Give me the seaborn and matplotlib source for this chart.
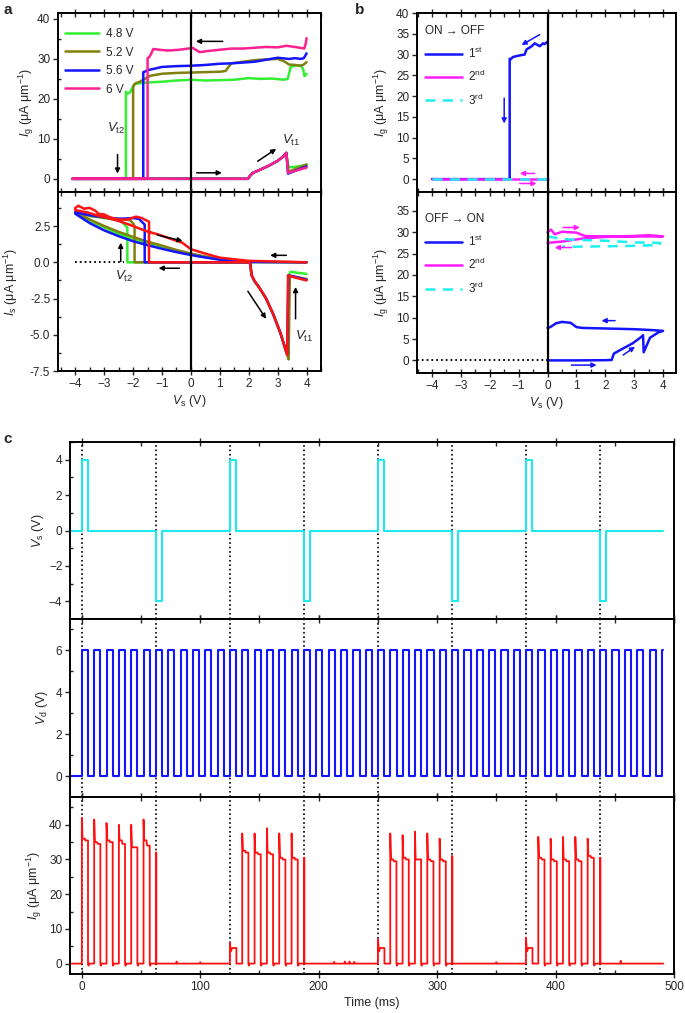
import numpy as np
import matplotlib
matplotlib.use("Agg")
import matplotlib.pyplot as plt
import seaborn as sns
from matplotlib.ticker import MultipleLocator

sns.set_style("ticks")
plt.rcParams['font.family'] = ['Liberation Sans', 'DejaVu Sans']
plt.rcParams['mathtext.fontset'] = 'custom'
plt.rcParams['mathtext.rm'] = 'Liberation Sans'
plt.rcParams['mathtext.it'] = 'Liberation Sans:italic'
plt.rcParams['mathtext.bf'] = 'Liberation Sans:bold'
plt.rcParams['axes.unicode_minus'] = True

# ---------------- panel a data ----------------
a_labels = ["4.8 V", "5.2 V", "5.6 V", "6 V"]
a_top_colors = ["#33ee33", "#808010", "#1414ff", "#ff2090"]
a_bot_colors = ["#33ee33", "#808010", "#1414ff", "#ff1414"]

# Ig vs Vs, high branch (4 -> -4, drop at Vt2)
ig_hi_x = [
    [4.0, 3.93, 3.88, 3.8, 3.6, 3.45, 3.35, 3.2, 2.8, 2.4, 2.0, 1.5, 1.0, 0.5, 0.0,
     -0.5, -1.0, -1.5, -1.8, -1.95, -2.05, -2.12, -2.2, -2.25, -2.25],
    [4.0, 3.9, 3.8, 3.6, 3.4, 3.2, 3.0, 2.6, 2.2, 1.8, 1.4, 1.3, 1.2, 1.0, 0.5, 0.0,
     -0.5, -1.0, -1.4, -1.6, -1.8, -1.9, -1.97, -2.0, -2.0],
    [4.0, 3.95, 3.9, 3.8, 3.6, 3.4, 3.0, 2.6, 2.2, 1.8, 1.4, 1.0, 0.5, 0.0, -0.5,
     -1.0, -1.3, -1.5, -1.6, -1.65, -1.65],
    [4.0, 3.97, 3.92, 3.85, 3.6, 3.3, 3.0, 2.6, 2.2, 1.8, 1.4, 1.0, 0.6, 0.3, 0.05,
     0.0, -0.4, -0.8, -1.1, -1.3, -1.4, -1.45, -1.5, -1.5],
]
ig_hi_y = [
    [26.3, 25.7, 27.5, 28.4, 28.3, 28.0, 25.0, 24.8, 25.1, 25.0, 25.2, 24.8, 24.7, 24.6, 24.8,
     24.6, 24.3, 24.1, 23.9, 23.7, 22.5, 21.5, 21.4, 21.8, 0.0],
    [29.2, 28.6, 28.3, 28.5, 28.6, 29.5, 30.0, 29.9, 29.7, 29.3, 28.9, 28.0, 27.0, 26.8, 26.7, 26.6,
     26.5, 26.3, 25.8, 25.0, 24.2, 24.0, 23.5, 23.0, 0.0],
    [31.4, 30.7, 30.2, 30.0, 30.2, 30.0, 30.3, 29.8, 29.3, 29.1, 28.9, 28.8, 28.5, 28.3, 28.2,
     28.0, 27.5, 27.2, 26.8, 26.7, 0.0],
    [35.2, 33.8, 32.6, 32.7, 33.0, 33.3, 32.9, 33.0, 32.8, 32.6, 32.6, 32.3, 32.0, 31.7, 32.8,
     32.7, 32.3, 32.1, 32.3, 32.5, 31.0, 30.4, 30.2, 0.0],
]
# Ig low branch (-4 -> 4, rise to Vt1)
ig_lo_x = [-4.1, 1.97, 2.05, 2.15, 2.4, 2.7, 3.0, 3.2, 3.3]
ig_lo_y = [0.0, 0.0, 0.8, 1.5, 2.3, 3.3, 4.5, 5.6, 6.5]
ig_end_x = [[3.36, 3.5, 3.8, 4.0], [3.38, 3.6, 4.0], [3.36, 3.6, 4.0], [3.36, 3.6, 4.0]]
ig_end_y = [[3.0, 2.9, 3.2, 3.5], [1.8, 2.4, 3.6], [1.3, 2.0, 3.1], [1.5, 2.0, 2.8]]

# Is vs Vs: lower smooth branch (2 -> -4)
is_lo_x = [
    [2.0, 1.5, 1.0, 0.5, 0.0, -0.5, -1.0, -1.5, -2.0, -2.5, -3.0, -3.5, -4.0],
    [2.0, 1.5, 1.0, 0.5, 0.0, -0.5, -1.0, -1.5, -2.0, -2.5, -3.0, -3.5, -4.0],
    [2.0, 1.5, 1.0, 0.5, 0.0, -0.5, -1.0, -1.5, -2.0, -2.5, -3.0, -3.5, -4.0],
    [2.0, 1.0, 0.5, 0.0, -0.3, -0.6, -1.1, -1.56, -2.0, -2.5, -3.18, -3.6, -4.0],
]
is_lo_y = [
    [0.02, 0.09, 0.2, 0.36, 0.55, 0.78, 1.05, 1.3, 1.6, 1.95, 2.4, 2.85, 3.4],
    [0.03, 0.1, 0.22, 0.4, 0.6, 0.85, 1.15, 1.42, 1.75, 2.1, 2.5, 2.95, 3.45],
    [0.02, 0.08, 0.18, 0.33, 0.5, 0.7, 0.93, 1.18, 1.45, 1.8, 2.2, 2.7, 3.35],
    [0.1, 0.32, 0.6, 0.9, 1.35, 1.55, 1.9, 2.16, 2.5, 2.85, 3.2, 3.45, 3.6],
]
# Is upper noisy branch (-4 -> Vt2, then vertical drop)
is_hi_x = [
    [-4.0, -3.5, -3.0, -2.6, -2.4, -2.25, -2.2, -2.2],
    [-4.0, -3.5, -3.0, -2.5, -2.1, -1.97, -1.95, -1.95],
    [-4.0, -3.5, -3.0, -2.5, -2.0, -1.8, -1.7, -1.6, -1.6],
    [-4.0, -3.9, -3.7, -3.5, -3.3, -3.2, -3.0, -2.8, -2.5, -2.2, -1.9, -1.7, -1.55, -1.45, -1.45],
]
is_hi_y = [
    [3.5, 3.2, 3.05, 2.95, 2.8, 2.5, 2.4, 0.0],
    [3.5, 3.2, 3.1, 3.0, 2.9, 2.6, 2.4, 0.0],
    [3.45, 3.25, 3.1, 3.0, 3.05, 3.0, 2.8, 2.6, 0.0],
    [3.75, 3.9, 3.7, 3.75, 3.55, 3.35, 3.3, 3.1, 2.95, 2.95, 3.15, 3.05, 2.9, 2.8, 0.0],
]
# Is negative dip (2 -> 4, jump at Vt1)
is_dip_x = [2.0, 2.05, 2.1, 2.2, 2.35, 2.6, 2.85, 3.1, 3.3]
is_dip_y = [0.0, -0.1, -0.9, -1.3, -1.7, -2.5, -3.6, -4.9, -6.2]
is_end_x = [[3.35, 3.38, 3.45, 3.6, 4.0], [3.38, 3.42, 3.6, 4.0], [3.33, 3.37, 3.5, 4.0], [3.33, 3.36, 3.5, 4.0]]
is_end_y = [[-6.3, -0.9, -0.65, -0.7, -0.8], [-6.7, -1.0, -1.0, -1.15], [-6.3, -0.9, -0.95, -1.2], [-6.4, -0.9, -1.0, -1.25]]

# ---------------- panel b data ----------------
b_colors = ["#1414ff", "#ff1aff", "#1ef0f0"]
b_labels = ["1$^{\\rm st}$", "2$^{\\rm nd}$", "3$^{\\rm rd}$"]
off_x = [
    [0.0, -0.1, -0.15, -0.27, -0.44, -0.55, -0.73, -0.79, -0.96, -1.2, -1.28, -1.31, -1.31, -4.0],
    [-4.0, 0.0],
    [-4.0, 0.0],
]
off_y = [
    [33.1, 32.5, 32.7, 32.0, 32.7, 32.0, 31.2, 30.0, 29.8, 29.4, 28.8, 29.0, 0.0, 0.0],
    [0.0, 0.0],
    [0.0, 0.0],
]
on_x = [
    [0.0, 1.0, 2.0, 2.22, 2.3, 2.62, 2.95, 3.27, 3.31, 3.33, 3.55, 3.85, 4.0,
     3.6, 3.0, 2.4, 1.8, 1.2, 1.0, 0.8, 0.5, 0.3, 0.1, 0.0],
    [0.0, 0.5, 1.2, 2.0, 3.0, 4.0, 3.5, 3.0, 2.0, 1.3, 1.0, 0.5, 0.25, 0.12, 0.0],
    [0.0, 0.5, 1.0, 2.0, 3.0, 3.9, 3.9, 3.0, 2.0, 1.0, 0.5],
]
on_y = [
    [0.0, 0.0, 0.05, 0.1, 1.6, 2.8, 4.0, 5.6, 5.9, 1.9, 5.3, 6.6, 6.9,
     7.1, 7.3, 7.4, 7.5, 7.6, 7.8, 8.8, 9.0, 8.7, 7.8, 7.6],
    [27.5, 27.8, 28.5, 28.9, 29.0, 29.0, 29.3, 29.1, 29.0, 29.1, 29.9, 30.1, 29.5, 30.6, 30.0],
    [29.0, 28.4, 28.2, 28.0, 27.6, 27.5, 27.0, 26.8, 26.7, 26.6, 26.6],
]

# ---------------- panel c data ----------------
vs_pulse_start = [0, 62.5, 125, 187.5, 250, 312.5, 375, 437.5]
vs_pulse_level = [4, -4, 4, -4, 4, -4, 4, -4]
vs_pulse_width = 5.5
t_first, t_last = -10, 491

vd_high = 6.0
vd_period = 10.42
vd_count = 48

cycle_start = [0, 125, 250, 375]
ig_peaks = [
    [42, 41.5, 40.5, 40, 40, 41.5],
    [37.5, 37.5, 39, 37.5, 37.5],
    [37.5, 37, 38, 37.5, 36],
    [36.5, 36, 36.5, 36.5, 36],
]
ig_plat1 = [
    [36, 35, 35.5, 35.5, 33.5, 35.5],
    [32.5, 32, 32, 30.5, 30.5],
    [30, 30.5, 30, 30, 30],
    [30.5, 30, 30, 30, 31],
]
ig_plat2 = [
    [35.5, 34.5, 35, 34.5, 33.5, 34],
    [32, 31.5, 31.5, 30, 30],
    [29.5, 30, 30, 29.5, 29.5],
    [30, 29.5, 29.5, 29.5, 30.5],
]
ig_last_spike = [32, 30.5, 31, 30.5]
ig_bump = [None, (6.0, 3.5, 4.5), (7.0, 3.5, 4.5), (7.5, 3.5, 4.5)]
ig_undershoot = -0.6
blip_t = [80, 100, 213, 222, 226, 230, 350, 455]
blip_v = [0.6, 0.4, 0.5, 0.6, 0.6, 0.5, 0.4, 0.8]

# build step series for panel c
vs_t, vs_v = [t_first], [0.0]
for s, lv in zip(vs_pulse_start, vs_pulse_level):
    vs_t += [s, s, s + vs_pulse_width, s + vs_pulse_width]
    vs_v += [0.0, lv, lv, 0.0]
vs_t.append(t_last)
vs_v.append(0.0)

vd_t, vd_v = [t_first], [0.0]
for k in range(vd_count):
    r = k * vd_period
    f = min(r + vd_period / 2, t_last)
    vd_t += [r, r, f, f]
    vd_v += [0.0, vd_high, vd_high, 0.0 if f < t_last else vd_high]
vd_t.append(t_last)
vd_v.append(vd_v[-1])

w = vd_period / 2
pts = [(t_first, 0.0)]
for c, s in enumerate(cycle_start):
    k0 = 0
    if ig_bump[c] is not None:
        p, q1, q2 = ig_bump[c]
        pts += [(s, 0.0), (s, p), (s + 0.8, q1), (s + 2.0, q2), (s + vs_pulse_width, q2),
                (s + vs_pulse_width, 0.0)]
        k0 = 1
    for j, (p, q1, q2) in enumerate(zip(ig_peaks[c], ig_plat1[c], ig_plat2[c])):
        r = s + (j + k0) * vd_period
        pts += [(r, 0.0), (r, p), (r + 0.6, q1), (r + 2.5, q1), (r + 3.0, q2), (r + w, q2),
                (r + w, 0.0), (r + w + 0.4, ig_undershoot), (r + w + 0.9, 0.0)]
    e = s + 62.5
    pts += [(e, 0.0), (e, ig_last_spike[c]), (e + 0.4, ig_last_spike[c]), (e + 0.4, 0.0)]
for bt, bv in zip(blip_t, blip_v):
    pts += [(bt - 0.3, 0.0), (bt, bv), (bt + 0.3, 0.0)]
pts.append((t_last, 0.0))
pts.sort(key=lambda p: p[0])
ig_t = [p[0] for p in pts]
ig_v = [p[1] for p in pts]

# ---------------- figure ----------------
W, H = 685, 1013
fig = plt.figure(figsize=(W / 100, H / 100), dpi=100)


def px_axes(l, t, r, b):
    return fig.add_axes([l / W, 1 - b / H, (r - l) / W, (b - t) / H])


def style(ax, xbottom_labels=True):
    ax.tick_params(which='both', top=True, right=False, labelsize=8.5, width=1.0,
                   labelbottom=xbottom_labels, pad=2)
    ax.tick_params(axis='x', which='major', direction='inout', length=6)
    ax.tick_params(axis='x', which='minor', direction='in', length=3)
    ax.tick_params(axis='y', which='major', direction='out', length=3.5)
    ax.tick_params(axis='y', which='minor', direction='in', length=2.5)
    for sp in ax.spines.values():
        sp.set_linewidth(1.4)
        sp.set_color('k')


def arrow(ax, tail, head, color='k', lw=1.1):
    ax.annotate('', xy=head, xytext=tail,
                arrowprops=dict(arrowstyle='-|>', color=color, lw=lw, mutation_scale=7,
                                shrinkA=0, shrinkB=0))


def line(ax, x, y, color, lw=1.8, label=None):
    sns.lineplot(x=x, y=y, ax=ax, color=color, lw=lw, sort=False, estimator=None,
                 label=label, legend=False)
    return ax.lines[-1]


ig_label = "$I_{\\rm g}$ (μA μm$^{-1}$)"
vs_label = "$V_{\\rm s}$ (V)"

# ---- panel a ----
ax_a1 = px_axes(58, 13, 321, 192)
ax_a2 = px_axes(58, 192, 321, 371)
handles = []
for i in range(4):
    x = ig_hi_x[i] + ig_lo_x + ig_end_x[i]
    y = ig_hi_y[i] + ig_lo_y + ig_end_y[i]
    handles.append(line(ax_a1, x, y, a_top_colors[i], label=a_labels[i]))
for i in range(4):
    x = [4.0] + is_lo_x[i] + is_hi_x[i] + is_dip_x + is_end_x[i]
    y = [0.0] + is_lo_y[i] + is_hi_y[i] + is_dip_y + is_end_y[i]
    line(ax_a2, x, y, a_bot_colors[i])

for ax in (ax_a1, ax_a2):
    ax.set_xlim(-4.6, 4.5)
    ax.axvline(0, color='k', lw=1.6)
    ax.xaxis.set_major_locator(MultipleLocator(1))
    ax.xaxis.set_minor_locator(MultipleLocator(0.5))
    ax.set_xlabel("")
ax_a1.set_ylim(-3.3, 41.5)
ax_a1.yaxis.set_major_locator(MultipleLocator(10))
ax_a1.yaxis.set_minor_locator(MultipleLocator(5))
ax_a2.set_ylim(-7.5, 4.85)
ax_a2.yaxis.set_major_locator(MultipleLocator(2.5))
ax_a2.yaxis.set_minor_locator(MultipleLocator(1.25))
ax_a2.yaxis.set_major_formatter(matplotlib.ticker.FormatStrFormatter('%.1f'))
style(ax_a1, False)
style(ax_a2, True)
ax_a1.set_ylabel(ig_label, fontsize=9, labelpad=1)
ax_a2.set_ylabel("$I_{\\rm s}$ (μA μm$^{-1}$)", fontsize=9, labelpad=7)
ax_a2.set_xlabel(vs_label, fontsize=9, labelpad=2)
ax_a2.plot([-4.0, -2.3], [0, 0], ls=':', color='k', lw=1.3)
ax_a1.legend(handles=handles, loc='upper left', bbox_to_anchor=(0.0, 0.955), frameon=False,
             fontsize=8.5, handlelength=2.9, labelspacing=0.55, borderaxespad=0.2,
             handletextpad=0.6)

arrow(ax_a1, (1.1, 34.4), (0.17, 34.4))
arrow(ax_a1, (0.2, 1.5), (1.07, 1.5))
arrow(ax_a1, (-2.54, 6.1), (-2.54, 1.3))
arrow(ax_a1, (2.31, 4.4), (2.95, 7.5))
ax_a1.text(-2.6, 12.5, "$V_{\\rm t2}$", fontsize=9.5, ha='center', va='center')
ax_a1.text(3.45, 9.6, "$V_{\\rm t1}$", fontsize=9.5, ha='center', va='center')

arrow(ax_a2, (-1.16, 1.88), (-0.29, 1.47))
arrow(ax_a2, (-0.4, -0.41), (-1.12, -0.41))
arrow(ax_a2, (-2.43, 0.05), (-2.43, 1.35))
arrow(ax_a2, (3.3, 0.48), (2.74, 0.48))
arrow(ax_a2, (1.97, -2.0), (2.6, -3.9))
arrow(ax_a2, (3.62, -3.9), (3.62, -1.7))
ax_a2.text(-2.3, -0.95, "$V_{\\rm t2}$", fontsize=9.5, ha='center', va='center')
ax_a2.text(3.9, -5.1, "$V_{\\rm t1}$", fontsize=9.5, ha='center', va='center')

# ---- panel b ----
ax_b1 = px_axes(417, 13, 676, 192)
ax_b2 = px_axes(417, 192, 676, 373)
h1 = []
for i in range(3):
    ln = line(ax_b1, off_x[i], off_y[i], b_colors[i], label=b_labels[i])
    if i == 2:
        ln.set_dashes([4, 3])
    h1.append(ln)
h2 = []
for i in range(3):
    ln = line(ax_b2, on_x[i], on_y[i], b_colors[i], label=b_labels[i])
    if i == 2:
        ln.set_dashes([4, 3])
    h2.append(ln)
for ax in (ax_b1, ax_b2):
    ax.set_xlim(-4.52, 4.45)
    ax.axvline(0, color='k', lw=1.6)
    ax.xaxis.set_major_locator(MultipleLocator(1))
    ax.xaxis.set_minor_locator(MultipleLocator(0.5))
    ax.yaxis.set_major_locator(MultipleLocator(5))
    ax.set_xlabel("")
ax_b1.set_ylim(-3.1, 40)
ax_b2.set_ylim(-2.95, 39.4)
style(ax_b1, False)
style(ax_b2, True)
ax_b1.set_ylabel(ig_label, fontsize=9, labelpad=4)
ax_b2.set_ylabel(ig_label, fontsize=9, labelpad=4)
ax_b2.set_xlabel(vs_label, fontsize=9, labelpad=2)
ax_b2.plot([-4.52, 0], [0, 0], ls=':', color='k', lw=1.3)
for ax, hs, title, top in ((ax_b1, h1, "ON → OFF", 0.978), (ax_b2, h2, "OFF → ON", 0.928)):
    ax.legend(handles=hs, title=title, loc='upper left', bbox_to_anchor=(0.0, top),
              frameon=False, fontsize=8.5, title_fontsize=8.5, handlelength=3.1,
              labelspacing=0.7, borderaxespad=0.3, handletextpad=0.5, alignment='left')

arrow(ax_b1, (-0.27, 34.8), (-0.9, 32.3), color=b_colors[0])
arrow(ax_b1, (-1.5, 19.5), (-1.5, 13.4), color=b_colors[0])
arrow(ax_b1, (-0.44, 1.37), (-0.96, 1.37), color=b_colors[1])
arrow(ax_b1, (-0.96, -1.05), (-0.38, -1.05), color=b_colors[1])
arrow(ax_b2, (2.34, 9.3), (1.87, 9.3), color=b_colors[0])
arrow(ax_b2, (0.83, -1.1), (1.7, -1.1), color=b_colors[0])
arrow(ax_b2, (2.62, 1.25), (3.03, 3.2), color=b_colors[0])
arrow(ax_b2, (0.54, 31.1), (1.12, 31.1), color=b_colors[1])
arrow(ax_b2, (0.83, 26.4), (0.25, 26.4), color=b_colors[1])

# ---- panel c ----
ax_c1 = px_axes(70, 442, 674, 619)
ax_c2 = px_axes(70, 619, 674, 797)
ax_c3 = px_axes(70, 797, 674, 974)
line(ax_c1, vs_t, vs_v, "#1ee8ee", lw=1.5)
line(ax_c2, vd_t, vd_v, "#1414ff", lw=1.5)
line(ax_c3, ig_t, ig_v, "#ff1010", lw=1.3)
for ax in (ax_c1, ax_c2, ax_c3):
    ax.set_xlim(-10, 500)
    ax.xaxis.set_major_locator(MultipleLocator(100))
    ax.xaxis.set_minor_locator(MultipleLocator(50))
    for s in vs_pulse_start:
        ax.axvline(s, color='k', ls=':', lw=1.2, zorder=0)
    ax.set_xlabel("")
ax_c1.set_ylim(-5, 5)
ax_c1.yaxis.set_major_locator(MultipleLocator(2))
ax_c1.yaxis.set_minor_locator(MultipleLocator(1))
ax_c2.set_ylim(-1, 7.5)
ax_c2.yaxis.set_major_locator(MultipleLocator(2))
ax_c2.yaxis.set_minor_locator(MultipleLocator(1))
ax_c3.set_ylim(-3, 48)
ax_c3.yaxis.set_major_locator(MultipleLocator(10))
ax_c3.yaxis.set_minor_locator(MultipleLocator(5))
style(ax_c1, False)
style(ax_c2, False)
style(ax_c3, True)
ax_c1.set_ylabel(vs_label, fontsize=9, labelpad=2)
ax_c2.set_ylabel("$V_{\\rm d}$ (V)", fontsize=9, labelpad=4)
ax_c3.set_ylabel(ig_label, fontsize=9, labelpad=4)
ax_c3.set_xlabel("Time (ms)", fontsize=9, labelpad=3)

fig.text(3 / W, 1 - 3 / H, "a", fontsize=11, fontweight='bold', va='top', ha='left')
fig.text(355 / W, 1 - 3 / H, "b", fontsize=11, fontweight='bold', va='top', ha='left')
fig.text(3 / W, 1 - 432 / H, "c", fontsize=11, fontweight='bold', va='top', ha='left')

fig.savefig("out.png", dpi=100)
